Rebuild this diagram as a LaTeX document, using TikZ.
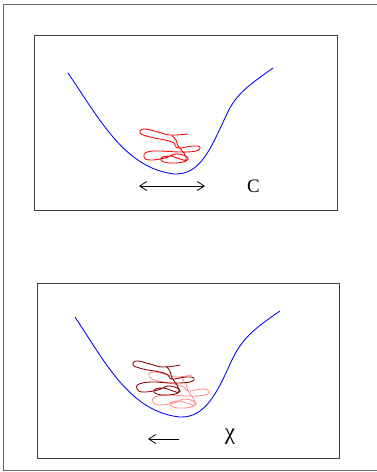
\documentclass[tikz,border=0pt]{standalone}
\usepackage{fontspec}
\newfontfamily\timesf{Liberation Serif}
\usetikzlibrary{arrows.meta}
\begin{document}
\begin{tikzpicture}[x=1pt,y=-1pt,
  frame/.style={draw=black!75,line width=1pt},
  outer/.style={draw=black!60,line width=1pt},
  well/.style={draw=blue,line width=0.85pt},
  scrib/.style={line width=0.85pt},
  barb/.style={line width=0.8pt,-{Straight Barb[length=7pt,width=9pt]}},
  lab/.style={font=\timesf\fontsize{19}{22}\selectfont,inner sep=0pt}]
\useasboundingbox (0,0) rectangle (377,472);
% outer frame (right side beyond image)
\draw[outer] (390,4.5) -- (3.5,4.5) -- (3.5,470) -- (390,470);
% boxes
\draw[frame] (34.5,35) rectangle (337,210);
\draw[frame] (37,283) rectangle (339.5,458);
% top well
\draw[well] (68,73) .. controls (100,120) and (125,168) .. (174,174)
  .. controls (200,175) and (210,150) .. (225,118)
  .. controls (235,95) and (245,88) .. (273,68);
% top scribble
\draw[red,scrib] plot[smooth,tension=0.75] coordinates {
 (188,134) (170,135) (158,132) (144,129) (140,133) (150,137) (165,140) (174,143)
 (178,148) (192,146) (200,147) (196,151) (180,152) (160,151) (147,152) (144,157)
 (150,160) (165,158) (176,154) (187,157) (186,161) (175,163) (164,162) (161,158)
 (170,156) (180,159) (186,160) (184,153) (178,146) (176,140) (172,136)};
% top double arrow and label
\coordinate (a1) at (172,186);
\coordinate (a0) at (139,186);
\coordinate (a2) at (205,186);
\draw[barb] (a1) -- (a0);
\draw[barb] (a1) -- (a2);
\node[lab] (C) at (253.5,186) {C};
% bottom well
\draw[well] (75,317) .. controls (105,362) and (130,412) .. (180,417)
  .. controls (205,418) and (217,393) .. (231,362)
  .. controls (241,340) and (252,330) .. (280,311);
% bottom scribbles
\begin{scope}[shift={(16,13)}]
\draw[red!45,scrib] plot[smooth,tension=0.75] coordinates {
 (176,362) (160,364) (148,361) (136,359) (133,364) (142,368) (158,371) (168,374)
 (172,378) (186,376) (193,378) (189,382) (172,383) (152,382) (139,384) (137,389)
 (143,392) (158,390) (168,386) (179,389) (178,393) (168,395) (157,394) (154,390)
 (163,388) (173,391) (179,392) (177,385) (172,378) (170,371) (166,366)};
\end{scope}
\draw[red!55!black,scrib] plot[smooth,tension=0.75] coordinates {
 (180,365) (163,367) (150,364) (137,361) (133,365) (143,369) (160,372) (168,375)
 (172,379) (186,377) (194,378) (190,382) (172,383) (152,382) (139,384) (137,389)
 (143,392) (158,390) (168,386) (179,389) (178,393) (168,395) (157,394) (154,390)
 (163,388) (173,391) (179,392) (177,385) (172,378) (170,371) (166,366)};
% bottom arrow and label
\coordinate (b0) at (179,439);
\coordinate (b1) at (148,439);
\draw[barb] (b0) -- (b1);
\node[lab] (X) at (230,437) {\fontsize{23}{26}\selectfont χ};
\end{tikzpicture}
\end{document}
